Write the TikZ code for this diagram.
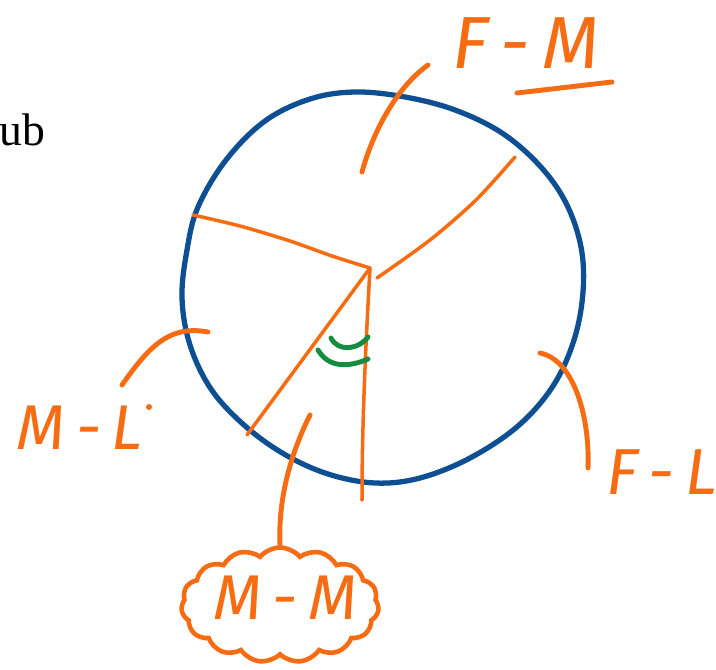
\documentclass[tikz,border=0pt]{standalone}
\usepackage{fontspec}
\newfontfamily\handfont{Fira Sans}
\newfontfamily\printfont{Liberation Serif}
\usetikzlibrary{shapes.symbols}
\definecolor{pen blue}{RGB}{14,78,146}
\definecolor{pen orange}{RGB}{246,108,18}
\definecolor{pen green}{RGB}{22,140,62}

\begin{document}
\begin{tikzpicture}[x=0.02cm, y=-0.02cm,
  rim/.style={draw=pen blue, line width=3pt, line cap=round, line join=round},
  cut/.style={draw=pen orange, line width=2pt, line cap=round, line join=round},
  ptr/.style={draw=pen orange, line width=2.8pt, line cap=round},
  ang/.style={draw=pen green, line width=2.8pt, line cap=round},
  tag/.style={text=pen orange, font=\handfont\itshape, inner sep=0pt},
  puff/.style={cloud, cloud puffs=15, cloud puff arc=100, aspect=1.7,
               draw=pen orange, line width=2.6pt, minimum width=3.95cm,
               minimum height=2.3cm, inner sep=0pt}
]
\useasboundingbox (0,0) rectangle (716,669);
% ----- cut-off printed text -----
\node[anchor=base east, inner sep=0pt, font=\printfont\fontsize{26}{28}\selectfont]
     (ub) at (46,145) {ub};
% ----- the pie -----
\draw[rim] plot[smooth cycle, tension=0.6] coordinates {
  (355,92) (405,97) (455,110) (502,133) (540,166) (566,203) (581,247)
  (583,292) (574,340) (553,386) (518,426) (470,458) (420,478) (375,483)
  (328,474) (284,454) (244,425) (211,389) (190,345) (182,298) (187,250)
  (198,207) (226,160) (265,121) (310,99)};
\coordinate (hub) at (370,268);
\draw[cut] plot[smooth, tension=0.5] coordinates {
  (193,215) (240,226) (290,241) (332,256) (hub)};
\draw[cut] plot[smooth, tension=0.5] coordinates {
  (377,278) (430,240) (476,200) (515,157)};
\draw[cut] (hub) -- (247,435);
\draw[cut] (hub) .. controls (366,340) and (362,420) .. (362,500);
% ----- the angle marks -----
\draw[ang] (331,338) .. controls (338,352) and (358,350) .. (368,337);
\draw[ang] (318,350) .. controls (330,370) and (352,366) .. (368,359);
% ----- labels -----
\node[tag, font=\handfont\itshape\fontsize{42}{44}\selectfont] (fm) at (526,43) {F\,-\,M};
\draw[ptr] (517,93) -- (612,82);
\node[tag, font=\handfont\itshape\fontsize{36}{38}\selectfont] (ml) at (80,428) {M\,-\,L};
\fill[pen orange] (149,407) circle (3);
\node[tag, font=\handfont\itshape\fontsize{37}{40}\selectfont] (fl) at (662,472) {F\,-\,L};
\node[puff] (mm) at (280,605) {};
\node[tag, font=\handfont\itshape\fontsize{36}{40}\selectfont] (mmtext) at (285,598) {M\,-\,M};
% ----- pointers -----
\coordinate (fmtip) at (428,65);
\coordinate (mltip) at (122,385);
\coordinate (fltip) at (588,468);
\draw[ptr] (362,172) .. controls (375,125) and (400,85) .. (fmtip);
\draw[ptr] (208,332) .. controls (170,325) and (150,345) .. (mltip);
\draw[ptr] (540,353) .. controls (575,360) and (590,420) .. (fltip);
\draw[ptr] (310,415) .. controls (290,455) and (278,500) .. (mm.north);
\end{tikzpicture}
\end{document}
